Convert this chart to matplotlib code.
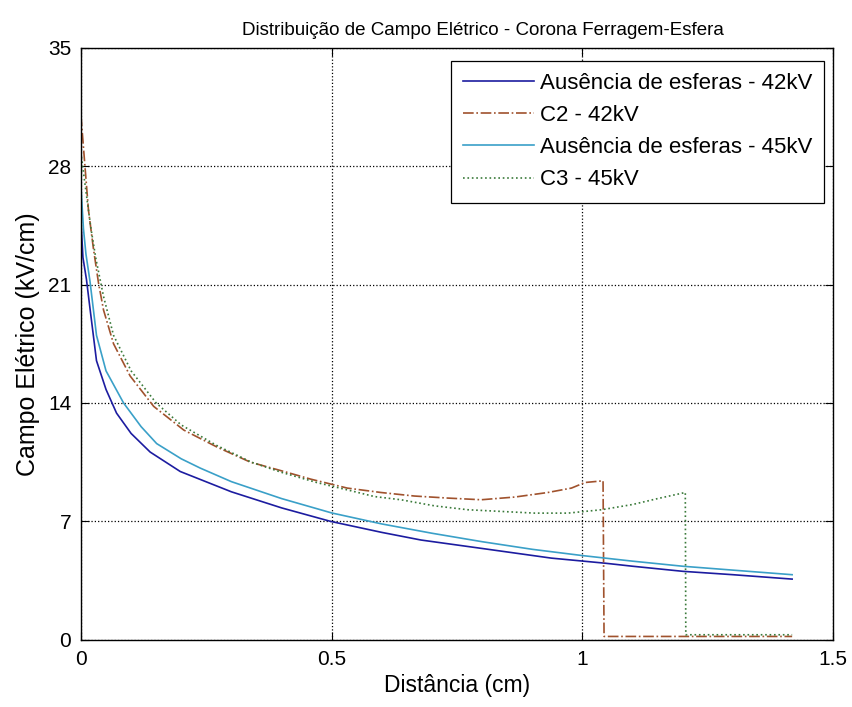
import numpy as np
import matplotlib.pyplot as plt

plt.rcParams['font.family'] = ['Liberation Sans', 'DejaVu Sans']

# Ausência de esferas - 42kV
x_a42 = [0, 0.004, 0.011, 0.018, 0.031, 0.05, 0.071, 0.1, 0.138, 0.198, 0.3, 0.4,
         0.498, 0.6, 0.678, 0.8, 0.938, 1.045, 1.1, 1.2, 1.3, 1.418]
y_a42 = [24.8, 22.6, 21.3, 19.6, 16.5, 14.8, 13.4, 12.2, 11.1, 9.95, 8.75, 7.8,
         7.0, 6.35, 5.9, 5.4, 4.83, 4.53, 4.35, 4.05, 3.85, 3.59]

# C2 - 42kV
x_c2 = [0, 0.008, 0.015, 0.025, 0.035, 0.045, 0.065, 0.098, 0.145, 0.205, 0.271,
        0.338, 0.405, 0.458, 0.531, 0.598, 0.665, 0.731, 0.798, 0.865, 0.931,
        0.978, 1.005, 1.041, 1.043, 1.418]
y_c2 = [31.0, 28.0, 25.4, 23.1, 21.1, 19.5, 17.5, 15.6, 13.8, 12.4, 11.4,
        10.5, 9.95, 9.5, 8.97, 8.71, 8.5, 8.38, 8.28, 8.44, 8.71,
        8.97, 9.3, 9.4, 0.2, 0.2]

# Ausência de esferas - 45kV
x_a45 = [0, 0.005, 0.01, 0.018, 0.031, 0.05, 0.085, 0.12, 0.151, 0.2, 0.238, 0.3,
         0.4, 0.5, 0.6, 0.7, 0.8, 0.9, 1.0, 1.1, 1.2, 1.3, 1.418]
y_a45 = [26.8, 24.3, 22.8, 21.2, 18.0, 15.9, 14.0, 12.6, 11.6, 10.7, 10.15, 9.35,
         8.35, 7.5, 6.85, 6.3, 5.8, 5.35, 4.98, 4.65, 4.35, 4.12, 3.85]

# C3 - 45kV
x_c3 = [0, 0.01, 0.02, 0.03, 0.045, 0.065, 0.1, 0.15, 0.2, 0.27, 0.34, 0.4, 0.47,
        0.54, 0.585, 0.638, 0.705, 0.771, 0.838, 0.905, 0.971, 1.038, 1.1, 1.15,
        1.205, 1.206, 1.418]
y_c3 = [28.8, 26.5, 24.3, 22.5, 20.3, 18.0, 15.9, 14.0, 12.7, 11.5, 10.5, 9.9, 9.3,
        8.8, 8.47, 8.28, 7.92, 7.69, 7.59, 7.49, 7.49, 7.69, 8.0, 8.35,
        8.71, 0.3, 0.3]

fig = plt.figure(figsize=(8.52, 7.07), dpi=100)
ax = fig.add_axes([0.095, 0.095, 0.883, 0.8375])

ax.plot(x_a42, y_a42, '-', color='#1c1ca0', linewidth=1.2,
        label='Ausência de esferas - 42kV')
ax.plot(x_c2, y_c2, '-.', color='#a0522d', linewidth=1.2,
        label='C2 - 42kV')
ax.plot(x_a45, y_a45, '-', color='#3aa0c8', linewidth=1.2,
        label='Ausência de esferas - 45kV')
ax.plot(x_c3, y_c3, ':', color='#3a7a3a', linewidth=1.2,
        label='C3 - 45kV')

ax.set_xlim(0, 1.5)
ax.set_ylim(0, 35)
ax.set_xticks([0, 0.5, 1, 1.5])
ax.set_xticklabels(['0', '0.5', '1', '1.5'])
ax.set_yticks([0, 7, 14, 21, 28, 35])
ax.tick_params(direction='in', labelsize=15, length=6, top=True, right=True,
               pad=7)
ax.grid(True, linestyle=':', color='black', linewidth=0.9)
for s in ax.spines.values():
    s.set_linewidth(1.0)

ax.set_title('Distribuição de Campo Elétrico - Corona Ferragem-Esfera',
             fontsize=13.5, pad=9, x=0.534)
ax.set_xlabel('Distância (cm)', fontsize=16.5, labelpad=4)
ax.set_ylabel('Campo Elétrico (kV/cm)', fontsize=18, labelpad=6)

leg = ax.legend(loc='upper right', bbox_to_anchor=(0.988, 0.978),
                borderaxespad=0, fontsize=16, handlelength=3.2,
                handletextpad=0.25, labelspacing=0.5, borderpad=0.55,
                fancybox=False, framealpha=1, edgecolor='black')
leg.get_frame().set_linewidth(0.9)

fig.savefig('out.png', dpi=100)
